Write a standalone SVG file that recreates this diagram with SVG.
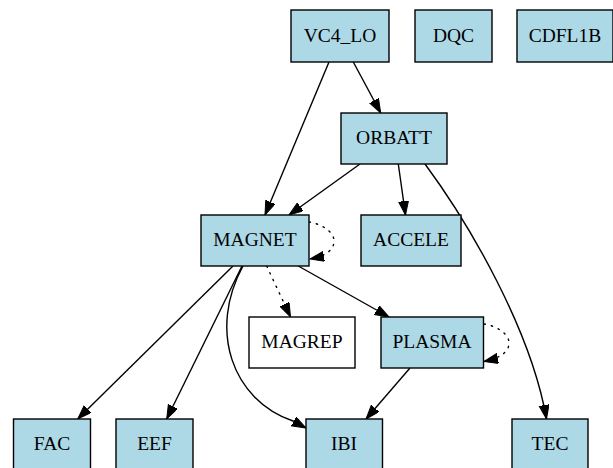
<svg xmlns="http://www.w3.org/2000/svg" width="613" height="468" viewBox="0 0 613 468">
<style>
  .node rect { fill: #add8e6; stroke: #000; stroke-width: 1.4; }
  .node.white rect { fill: #fff; }
  .node text { font-size: 19.5px; text-anchor: middle; fill: #000; }
  .edge { fill: none; stroke: #000; stroke-width: 1.4; marker-end: url(#arrow); }
  .dotted { stroke-dasharray: 1.4 6; stroke-linecap: round; }
</style>
<defs>
  <marker id="arrow" markerUnits="userSpaceOnUse" markerWidth="16" markerHeight="12" refX="14" refY="5" orient="auto">
    <path d="M0,0 L14,5 L0,10 z" fill="#000" stroke="#000" stroke-width="1"/>
  </marker>
</defs>
<rect width="613" height="468" fill="#fff"/>
<g id="connectors">
  <path class="edge" d="M329,62 L265,215"/>
  <path class="edge" d="M353.3,62 L380.7,113"/>
  <path class="edge" d="M360,164 L289,215"/>
  <path class="edge" d="M398.3,164 L405.5,215"/>
  <path class="edge" d="M425,164 C470,225 531,330 546.5,419"/>
  <path class="edge dotted" d="M309,222 C322,224 334,232 334,241 C334,250 326,256 310,259"/>
  <path class="edge dotted" d="M266.7,266 L290.5,317"/>
  <path class="edge" d="M298.3,266 L389,317"/>
  <path class="edge" d="M233,266 L77.7,419"/>
  <path class="edge" d="M242,266 L166.7,419"/>
  <path class="edge" d="M243,266 C208,330 232,400 293,421 L306,428"/>
  <path class="edge dotted" d="M484,324 C497,326 509,334 509,343 C509,352 500,358 484,361.5"/>
  <path class="edge" d="M410,368 L366,419"/>
</g>
<g font-family="Liberation Serif, Times New Roman, serif">
<g id="node-VC4_LO" class="node"><rect x="291" y="10" width="98" height="52"/><text x="340" y="41.7">VC4_LO</text></g>
<g id="node-DQC" class="node"><rect x="415" y="10" width="77" height="52"/><text x="453.5" y="41.7">DQC</text></g>
<g id="node-CDFL1B" class="node"><rect x="517" y="10" width="96" height="52"/><text x="565" y="41.7">CDFL1B</text></g>
<g id="node-ORBATT" class="node"><rect x="341" y="113" width="106" height="51"/><text x="394" y="144.2">ORBATT</text></g>
<g id="node-MAGNET" class="node"><rect x="201" y="215" width="108" height="51"/><text x="255" y="246.2">MAGNET</text></g>
<g id="node-ACCELE" class="node"><rect x="361" y="215" width="100" height="51"/><text x="411" y="246.2">ACCELE</text></g>
<g id="node-MAGREP" class="node white"><rect x="249" y="317" width="106" height="51"/><text x="302" y="348.2">MAGREP</text></g>
<g id="node-PLASMA" class="node"><rect x="381" y="317" width="102.5" height="51"/><text x="432" y="348.2">PLASMA</text></g>
<g id="node-FAC" class="node"><rect x="13.5" y="419" width="77" height="51"/><text x="52" y="450.2">FAC</text></g>
<g id="node-EEF" class="node"><rect x="116" y="419" width="77" height="51"/><text x="154.5" y="450.2">EEF</text></g>
<g id="node-IBI" class="node"><rect x="306" y="419" width="76.5" height="51"/><text x="344" y="450.2">IBI</text></g>
<g id="node-TEC" class="node"><rect x="512" y="419" width="76" height="51"/><text x="550" y="450.2">TEC</text></g>
</g>
</svg>
